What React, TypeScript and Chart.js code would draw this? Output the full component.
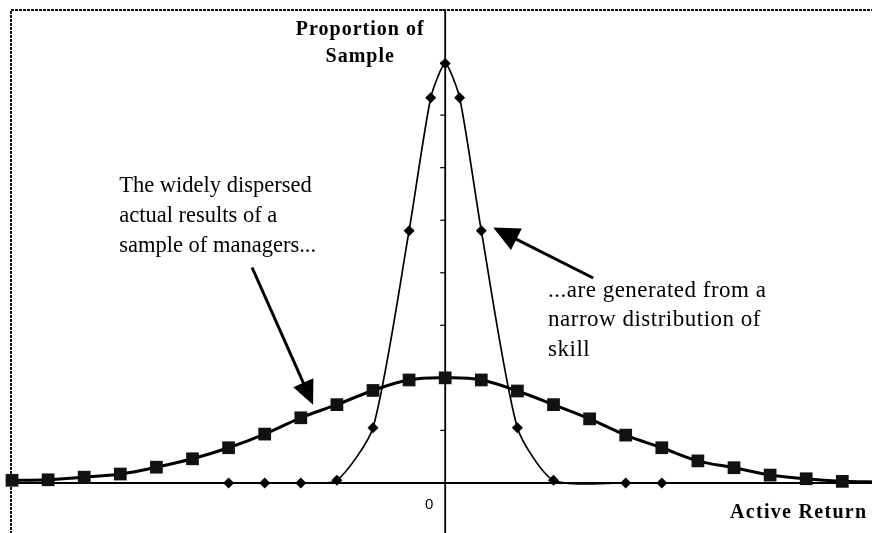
import React, { useEffect, useRef } from "react";
import { Chart, registerables } from "chart.js";

Chart.register(...registerables);

// ---- Data ----
const managerX = [-12, -11, -10, -9, -8, -7, -6, -5, -4, -3, -2, -1, 0, 1, 2, 3, 4, 5, 6, 7, 8, 9, 10, 11, 12];
const managerY = [0.05, 0.06, 0.11, 0.17, 0.3, 0.46, 0.67, 0.93, 1.24, 1.49, 1.76, 1.96, 2.0, 1.96, 1.75, 1.49, 1.22, 0.91, 0.67, 0.42, 0.29, 0.15, 0.08, 0.03, 0.02];

const skillX = [-6, -5, -4, -3, -2, -1, -0.4, 0, 0.4, 1, 2, 3, 5, 6];
const skillY = [0, 0, 0, 0.05, 1.05, 4.8, 7.33, 7.98, 7.33, 4.8, 1.05, 0.05, 0, 0];

const yTickValues = [1, 2, 3, 4, 5, 6, 7, 8, 9];
const xTickValues = [0];
const xTickLabels = ["0"];
const yAxisTitle = ["Proportion of", "Sample"];
const xAxisTitle = "Active Return";
const leftNote = ["The widely dispersed", "actual results of a", "sample of managers..."];
const rightNote = ["...are generated from a", "narrow distribution of", "skill"];

// annotation anchors (data units)
const leftNoteAnchor = { x: -9.03, y: 5.54 };
const rightNoteAnchor = { x: 2.85, y: 3.54 };
const arrowLeft = { x1: -5.35, y1: 4.1, x2: -3.66, y2: 1.49 };
const arrowRight = { x1: 4.1, y1: 3.9, x2: 1.33, y2: 4.86 };

const CW = 930;
const CH = 580;

function drawArrow(ctx: CanvasRenderingContext2D, x1: number, y1: number, x2: number, y2: number, headLen: number, headHalf: number) {
  const dx = x2 - x1;
  const dy = y2 - y1;
  const len = Math.hypot(dx, dy);
  const ux = dx / len;
  const uy = dy / len;
  const bx = x2 - ux * headLen;
  const by = y2 - uy * headLen;
  ctx.save();
  ctx.strokeStyle = "#000";
  ctx.fillStyle = "#000";
  ctx.lineWidth = 3;
  ctx.beginPath();
  ctx.moveTo(x1, y1);
  ctx.lineTo(bx + ux * 2, by + uy * 2);
  ctx.stroke();
  ctx.beginPath();
  ctx.moveTo(x2, y2);
  ctx.lineTo(bx - uy * headHalf, by + ux * headHalf);
  ctx.lineTo(bx + uy * headHalf, by - ux * headHalf);
  ctx.closePath();
  ctx.fill();
  ctx.restore();
}

const decorPlugin = {
  id: "decor",
  beforeDatasetsDraw(chart: any) {
    const ctx: CanvasRenderingContext2D = chart.ctx;
    const xs = chart.scales.x;
    const ys = chart.scales.y;
    const area = chart.chartArea;
    const x0 = xs.getPixelForValue(0);
    const y0 = ys.getPixelForValue(0);
    ctx.save();
    // frame
    ctx.strokeStyle = "#111";
    ctx.lineWidth = 2;
    ctx.setLineDash([3, 1]);
    ctx.beginPath();
    ctx.moveTo(area.left - 1, CH + 10);
    ctx.lineTo(area.left - 1, area.top);
    ctx.lineTo(CW + 10, area.top);
    ctx.stroke();
    ctx.setLineDash([]);
    // axes
    ctx.strokeStyle = "#000";
    ctx.lineWidth = 2;
    ctx.beginPath();
    ctx.moveTo(area.left - 1, y0);
    ctx.lineTo(CW, y0);
    ctx.stroke();
    ctx.lineWidth = 1.8;
    ctx.beginPath();
    ctx.moveTo(x0, area.top);
    ctx.lineTo(x0, CH);
    ctx.stroke();
    // y ticks
    ctx.lineWidth = 1.2;
    yTickValues.forEach((v) => {
      const py = ys.getPixelForValue(v);
      ctx.beginPath();
      ctx.moveTo(x0 - 5, py);
      ctx.lineTo(x0, py);
      ctx.stroke();
    });
    ctx.restore();
  },
  afterDraw(chart: any) {
    const ctx: CanvasRenderingContext2D = chart.ctx;
    const xs = chart.scales.x;
    const ys = chart.scales.y;
    const x0 = xs.getPixelForValue(0);
    const y0 = ys.getPixelForValue(0);
    ctx.save();
    ctx.fillStyle = "#000";
    // x tick labels
    ctx.font = "15px 'Liberation Sans', Arial, sans-serif";
    ctx.textAlign = "center";
    ctx.textBaseline = "alphabetic";
    xTickValues.forEach((v, i) => {
      ctx.fillText(xTickLabels[i], xs.getPixelForValue(v) - 16, y0 + 26);
    });
    // y axis title
    ctx.font = "bold 20px 'Liberation Serif', 'Times New Roman', serif";
    (ctx as any).letterSpacing = "1px";
    ctx.textAlign = "center";
    ctx.fillText(yAxisTitle[0], x0 - 85, 35);
    ctx.fillText(yAxisTitle[1], x0 - 85, 62);
    // x axis title
    ctx.textAlign = "left";
    (ctx as any).letterSpacing = "1.3px";
    ctx.fillText(xAxisTitle, 730, y0 + 35);
    (ctx as any).letterSpacing = "0px";
    // notes
    ctx.font = "22.5px 'Liberation Serif', 'Times New Roman', serif";
    ctx.textAlign = "left";
    const lx = xs.getPixelForValue(leftNoteAnchor.x);
    const ly = ys.getPixelForValue(leftNoteAnchor.y);
    leftNote.forEach((t, i) => ctx.fillText(t, lx, ly + i * 30));
    ctx.font = "23px 'Liberation Serif', 'Times New Roman', serif";
    (ctx as any).letterSpacing = "0.5px";
    const rx = xs.getPixelForValue(rightNoteAnchor.x);
    const ry = ys.getPixelForValue(rightNoteAnchor.y);
    rightNote.forEach((t, i) => ctx.fillText(t, rx, ry + i * 29.5));
    (ctx as any).letterSpacing = "0px";
    ctx.restore();
    // arrows
    drawArrow(
      ctx,
      xs.getPixelForValue(arrowLeft.x1),
      ys.getPixelForValue(arrowLeft.y1),
      xs.getPixelForValue(arrowLeft.x2),
      ys.getPixelForValue(arrowLeft.y2),
      24,
      11
    );
    drawArrow(
      ctx,
      xs.getPixelForValue(arrowRight.x1),
      ys.getPixelForValue(arrowRight.y1),
      xs.getPixelForValue(arrowRight.x2),
      ys.getPixelForValue(arrowRight.y2),
      26,
      12
    );
  },
};

export default function App() {
  const ref = useRef<HTMLCanvasElement | null>(null);
  useEffect(() => {
    if (!ref.current) return;
    const chart = new Chart(ref.current, {
      type: "scatter",
      data: {
        datasets: [
          {
            label: "Skill",
            data: skillX.map((x, i) => ({ x, y: skillY[i] })),
            showLine: true,
            borderColor: "#000",
            backgroundColor: "#000",
            borderWidth: 1.7,
            tension: 0.22,
            pointStyle: "rectRot",
            pointRadius: 5.5,
            pointBorderWidth: 0,
            clip: false,
          } as any,
          {
            label: "Managers",
            data: managerX.map((x, i) => ({ x, y: managerY[i] })),
            showLine: true,
            borderColor: "#000",
            backgroundColor: "#111",
            borderWidth: 3,
            tension: 0.4,
            pointStyle: "rect",
            pointRadius: 9,
            pointBorderWidth: 0,
            clip: false,
          } as any,
        ],
      },
      options: {
        responsive: false,
        maintainAspectRatio: false,
        animation: false,
        events: [],
        layout: { padding: { left: 12, top: 10, right: CW - 878.4, bottom: CH - 535.5 } },
        plugins: { legend: { display: false }, tooltip: { enabled: false } },
        scales: {
          x: { type: "linear", min: -12, max: 12, display: false },
          y: { type: "linear", min: -1, max: 9, display: false },
        },
      },
      plugins: [decorPlugin],
    });
    return () => chart.destroy();
  }, []);
  return (
    <div style={{ position: "fixed", left: 0, top: 0, width: 872, height: 533, overflow: "hidden", background: "#fff" }}>
      <canvas ref={ref} width={CW} height={CH} style={{ display: "block" }} />
    </div>
  );
}
